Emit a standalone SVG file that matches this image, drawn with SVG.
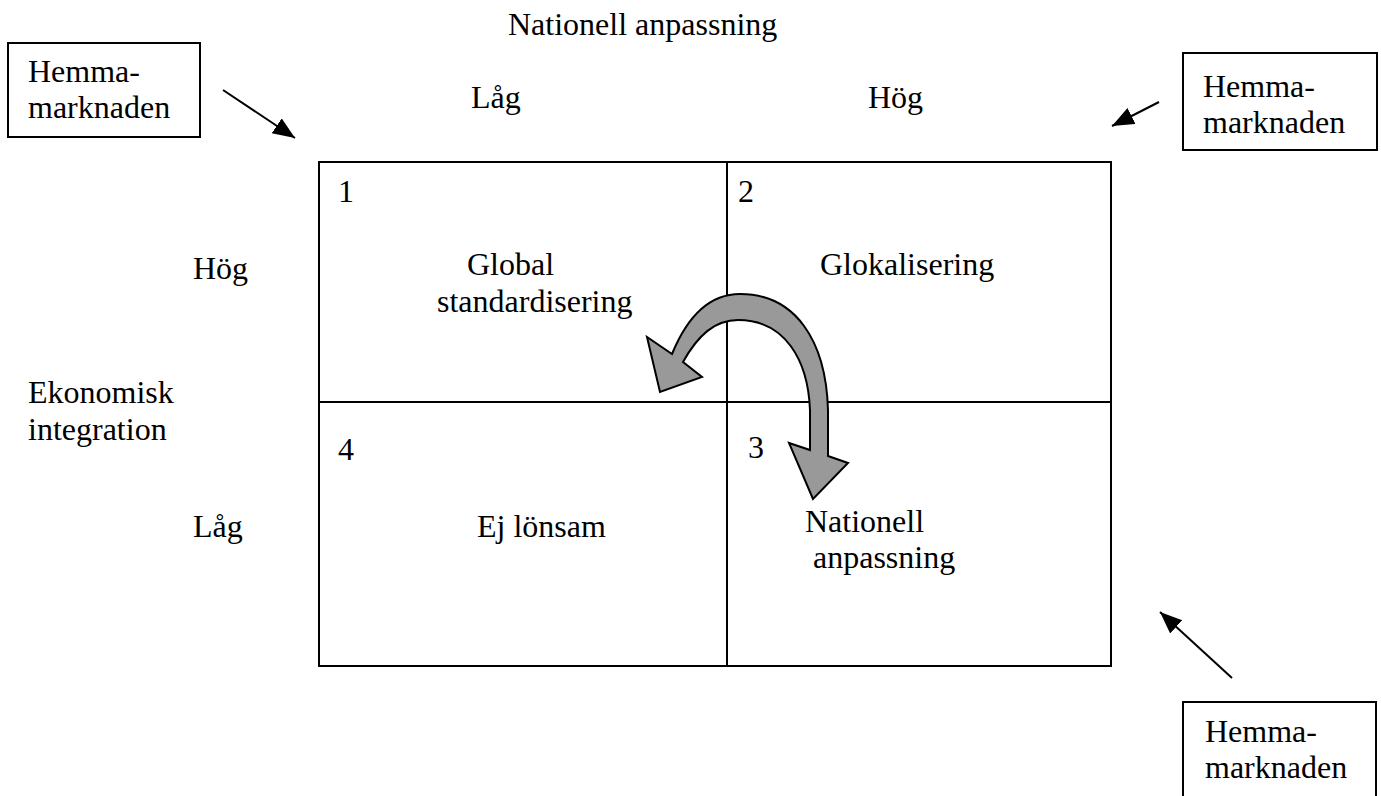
<svg xmlns="http://www.w3.org/2000/svg" width="1381" height="796" viewBox="0 0 1381 796">
  <defs>
    <style>
      text { font-family: "Liberation Serif", "Times New Roman", serif; font-size: 32px; fill: #000; }
      .box { fill: #fff; stroke: #000; stroke-width: 2; }
      .grid { fill: none; stroke: #000; stroke-width: 2; }
      .ptr { stroke: #000; stroke-width: 2; fill: none; marker-end: url(#head); }
      .turn { fill: #999; stroke: #000; stroke-width: 2; stroke-linejoin: miter; }
    </style>
    <marker id="head" markerUnits="userSpaceOnUse" markerWidth="24" markerHeight="20" refX="22" refY="9" orient="auto">
      <path d="M0,0 L22,9 L0,18 Z" fill="#000"/>
    </marker>
  </defs>
  <rect width="1381" height="796" fill="#fff"/>

  <!-- axis titles -->
  <g id="axis-labels">
    <text x="508" y="35">Nationell anpassning</text>
    <text x="471" y="108">Låg</text>
    <text x="868" y="108">Hög</text>
    <text x="193" y="279">Hög</text>
    <text x="28" y="403">Ekonomisk</text>
    <text x="28" y="440">integration</text>
    <text x="193" y="537">Låg</text>
  </g>

  <!-- 2x2 matrix -->
  <g id="matrix">
    <rect class="grid" x="319" y="162" width="792" height="504"/>
    <line class="grid" x1="727" y1="162" x2="727" y2="666"/>
    <line class="grid" x1="319" y1="402" x2="1111" y2="402"/>
  </g>

  <g id="cell-1">
    <text x="338" y="202">1</text>
    <text x="467" y="275">Global</text>
    <text x="437" y="312">standardisering</text>
  </g>
  <g id="cell-2">
    <text x="738" y="202">2</text>
    <text x="820" y="275">Glokalisering</text>
  </g>
  <g id="cell-4">
    <text x="338" y="460">4</text>
    <text x="477" y="537">Ej lönsam</text>
  </g>
  <g id="cell-3">
    <text x="748" y="458">3</text>
    <text x="805" y="532">Nationell</text>
    <text x="813" y="568">anpassning</text>
  </g>

  <!-- home-market boxes -->
  <g id="home-top-left">
    <rect class="box" x="8" y="43" width="192" height="94"/>
    <text x="28" y="82">Hemma-</text>
    <text x="28" y="118">marknaden</text>
  </g>
  <g id="home-top-right">
    <rect class="box" x="1183" y="53" width="194" height="97"/>
    <text x="1203" y="97">Hemma-</text>
    <text x="1203" y="133">marknaden</text>
  </g>
  <g id="home-bottom-right">
    <rect class="box" x="1183" y="702" width="193" height="110"/>
    <text x="1205" y="742">Hemma-</text>
    <text x="1205" y="778">marknaden</text>
  </g>

  <!-- connectors -->
  <g id="connectors">
    <line class="ptr" x1="223" y1="90" x2="295" y2="138"/>
    <line class="ptr" x1="1159" y1="102" x2="1112" y2="126"/>
    <line class="ptr" x1="1232" y1="678" x2="1160" y2="612"/>
    <!-- curved block arrow from cell 2 into cells 1 and 3 -->
    <path class="turn" d="M828,456 L828,410 C826,340 795,294 740,294 C710,294 688,315 672,354 L647,337 L660,392 L702,377 L683,362 C698,335 715,320 738,320 C785,320 808,360 810,410 L810,450 L789,443 L813,499 L848,463 Z"/>
  </g>
</svg>
